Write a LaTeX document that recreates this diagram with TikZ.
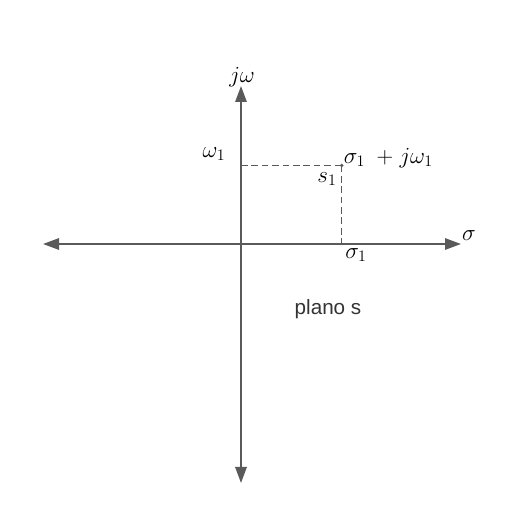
\documentclass[tikz,border=0pt]{standalone}
\usepackage{fontspec}
\newfontfamily\labelsans{Liberation Sans}
\usetikzlibrary{arrows.meta}
\definecolor{axisgray}{RGB}{90,90,90}
\definecolor{textdark}{RGB}{51,51,51}
\begin{document}
\begin{tikzpicture}[x=0.75pt,y=0.75pt,
  axis/.style={draw=axisgray,line width=1.5pt,-{Triangle[length=12pt,width=8.5pt]}},
  guide/.style={draw=axisgray,line width=0.7pt,dash pattern=on 5pt off 2.8pt},
  mlabel/.style={inner sep=0pt,font=\fontsize{18}{20}\selectfont},
  slabel/.style={inner sep=0pt,text=textdark,font=\labelsans\fontsize{15.5}{18}\selectfont}]
\useasboundingbox (0,0) rectangle (519,523);
% coordinates (y measured from bottom)
\coordinate (O) at (241,279);
\coordinate (top) at (241,437);
\coordinate (bot) at (241,40);
\coordinate (left) at (43,279);
\coordinate (right) at (461,279);
\coordinate (P) at (341.7,357.5);
\coordinate (Px) at (341.7,279);
\coordinate (Py) at (241,357.5);
% dashed guides
\draw[guide] (Py) -- (P);
\draw[guide] (P) -- (Px);
\fill[axisgray] (P) circle (1.4pt);
% axes
\draw[axis] (O) -- (top);
\draw[axis] (O) -- (bot);
\draw[axis] (O) -- (right);
\draw[axis] (O) -- (left);
% labels
\node[mlabel] (jw) at (242,446) {$j\omega$};
\node[mlabel] (sig) at (469,287) {$\sigma$};
\node[mlabel] (sig1) at (356,268) {$\sigma_1$};
\node[mlabel] (w1) at (214,369) {$\omega_1$};
\node[mlabel,anchor=west] (pt) at (343.5,365) {$\sigma_1\mskip5mu+\mskip1mu j\omega_1$};
\node[mlabel] (s1) at (327,344) {$s_1$};
\node[slabel] (plano) at (328,214) {plano s};
\end{tikzpicture}
\end{document}
